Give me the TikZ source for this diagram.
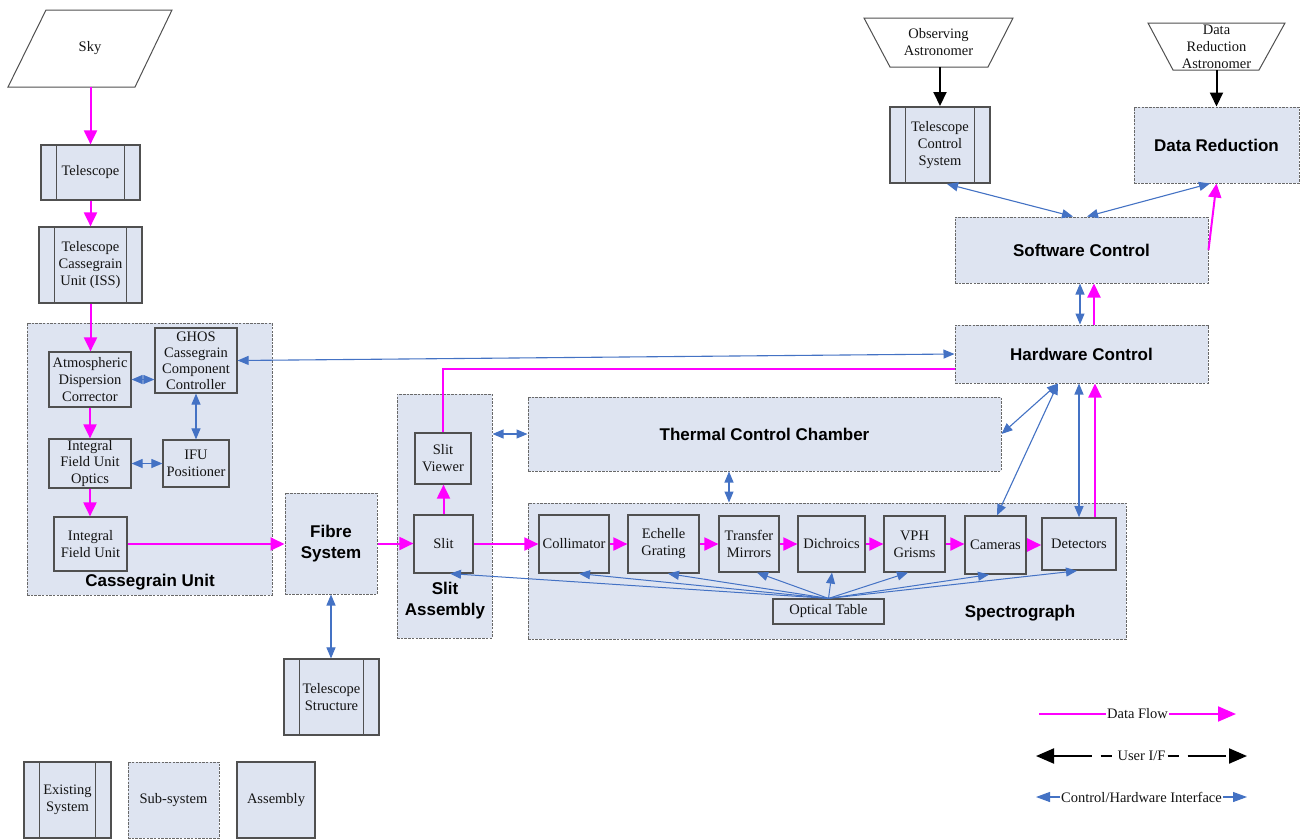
\documentclass[tikz,border=0pt]{standalone}
\usepackage{fontspec}
\setmainfont{Liberation Serif}
\newfontfamily\sanslabel{Liberation Sans}
\usetikzlibrary{arrows.meta,calc}

\definecolor{boxfill}{RGB}{222,228,241}
\definecolor{edgegray}{RGB}{80,80,80}
\definecolor{dashgray}{RGB}{105,105,105}
\definecolor{dataflow}{RGB}{255,0,255}
\definecolor{ctrlblue}{RGB}{68,114,196}

\tikzset{
  txt/.style={font=\fontsize{14.5}{17}\selectfont, text=black!92, align=center},
  assy/.style={draw=edgegray, line width=1.2pt, fill=boxfill, inner sep=0pt, txt},
  subsys/.style={draw=dashgray, line width=1pt, dash pattern=on 2.5pt off 1.2pt,
    fill=boxfill, inner sep=0pt, txt},
  existing/.style={assy, path picture={
    \draw[edgegray, line width=1.2pt]
      ([xshift=15.5pt]path picture bounding box.south west) --
      ([xshift=15.5pt]path picture bounding box.north west)
      ([xshift=-15.5pt]path picture bounding box.south east) --
      ([xshift=-15.5pt]path picture bounding box.north east);}},
  biglabel/.style={font=\sanslabel\bfseries\fontsize{17}{21}\selectfont, text=black, align=center},
  outline/.style={draw=edgegray, line width=1pt, fill=white},
  data/.style={draw=dataflow, line width=2pt, -{Triangle[length=14pt,width=13pt]}},
  ctrl/.style={draw=ctrlblue, line width=1.1pt,
    {Triangle[length=11pt,width=9pt]}-{Triangle[length=11pt,width=9pt]}},
  ctrlone/.style={draw=ctrlblue, line width=1pt, -{Triangle[length=11pt,width=9pt]}},
  user/.style={draw=black, line width=2pt, -{Triangle[length=14pt,width=13pt]}},
}

\begin{document}
\begin{tikzpicture}[x=1pt,y=-1pt]
\fill[white] (0,0) rectangle (1302,839);
\useasboundingbox (0,0) rectangle (1302,839);

% ---------- sub-system containers ----------
\node[subsys, minimum width=245pt, minimum height=272pt] (casu) at (149.5,459) {};
\node[subsys, minimum width=95pt, minimum height=244pt] (slita) at (444.5,516) {};
\node[subsys, biglabel, minimum width=473pt, minimum height=74pt] (tcc) at (764.5,434) {Thermal Control Chamber};
\node[subsys, minimum width=598pt, minimum height=136pt] (spec) at (827,571) {};
\node[biglabel] (casulbl) at (150,582) {Cassegrain Unit};
\node[biglabel] (slitalbl) at (445,601) {Slit\\Assembly};
\node[biglabel] (speclbl) at (1020,613) {Spectrograph};

% ---------- sky and telescope chain ----------
\draw[outline] (46,10) -- (172,10) -- (135,87) -- (8,87) -- cycle;
\node[txt, inner sep=0pt, minimum width=127pt, minimum height=77pt] (sky) at (90,48.5) {Sky};
\node[existing, minimum width=99pt, minimum height=55pt] (tel) at (90.5,172.5) {Telescope};
\node[existing, minimum width=103pt, minimum height=76pt] (tcu) at (90.5,265) {Telescope\\Cassegrain\\Unit (ISS)};

% ---------- Cassegrain unit ----------
\node[assy, minimum width=82pt, minimum height=55pt] (adc) at (90,379.5) {Atmospheric\\Dispersion\\Corrector};
\node[assy, minimum width=82pt, minimum height=65pt, font=\fontsize{14.5}{16}\selectfont] (ghos) at (196,360.5) {GHOS\\Cassegrain\\Component\\Controller};
\node[assy, minimum width=82pt, minimum height=49pt, font=\fontsize{14.5}{16.5}\selectfont] (ifuo) at (90,463.5) {Integral\\Field Unit\\Optics};
\node[assy, minimum width=66pt, minimum height=47pt] (ifup) at (196,463.5) {IFU\\Positioner};
\node[assy, minimum width=73pt, minimum height=54pt] (ifu) at (90.5,544) {Integral\\Field Unit};

% ---------- fibre and slit ----------
\node[subsys, biglabel, minimum width=92pt, minimum height=101pt] (fibre) at (331,543.5) {Fibre\\System};
\node[existing, minimum width=95pt, minimum height=76pt] (tstruct) at (331.5,697) {Telescope\\Structure};
\node[assy, minimum width=56pt, minimum height=51pt] (slitv) at (443,458.5) {Slit\\Viewer};
\node[assy, minimum width=59pt, minimum height=58pt] (slit) at (443.5,544) {Slit};

% ---------- spectrograph ----------
\node[assy, minimum width=70pt, minimum height=58pt] (coll) at (574,544) {Collimator};
\node[assy, minimum width=71pt, minimum height=58pt] (ech) at (663.5,544) {Echelle\\Grating};
\node[assy, minimum width=60pt, minimum height=56pt] (tm) at (749,544) {Transfer\\Mirrors};
\node[assy, minimum width=67pt, minimum height=56pt] (dich) at (831.5,544) {Dichroics};
\node[assy, minimum width=61pt, minimum height=56pt] (vph) at (914.5,544) {VPH\\Grisms};
\node[assy, minimum width=61pt, minimum height=58pt] (cam) at (995.5,545) {Cameras};
\node[assy, line width=1.6pt, minimum width=74pt, minimum height=52pt] (det) at (1079,544) {Detectors};
\node[assy, minimum width=111pt, minimum height=25pt] (optab) at (828.5,611.5) {Optical Table};

% ---------- control side ----------
\node[subsys, biglabel, minimum width=253pt, minimum height=58pt] (hc) at (1081.5,354) {Hardware Control};
\node[subsys, biglabel, minimum width=253pt, minimum height=66pt] (sc) at (1081.5,250) {Software Control};
\node[existing, line width=2pt, minimum width=100pt, minimum height=76pt] (tcs) at (940,145) {Telescope\\Control\\System};
\node[subsys, biglabel, minimum width=165pt, minimum height=76pt] (dr) at (1216.5,145) {Data Reduction};
\draw[outline] (864,18) -- (1013,18) -- (988,67) -- (890,67) -- cycle;
\node[txt, inner sep=0pt, minimum width=149pt, minimum height=49pt] (obs) at (938.5,42.5) {Observing\\Astronomer};
\draw[outline] (1148,23) -- (1285,23) -- (1259,70) -- (1173,70) -- cycle;
\node[txt, inner sep=0pt, minimum width=137pt, minimum height=47pt] (dra) at (1216.5,46.5) {Data\\Reduction\\Astronomer};

% ---------- key boxes ----------
\node[existing, minimum width=87pt, minimum height=76pt] (keyex) at (67.5,800) {Existing\\System};
\node[subsys, minimum width=91pt, minimum height=76pt] (keysub) at (173.5,800) {Sub-system};
\node[assy, minimum width=78pt, minimum height=76pt] (keyasm) at (276,800) {Assembly};

% ---------- data flow ----------
\draw[data] (tel.north |- sky.south) -- (tel.north);
\draw[data] (tel.south) -- (tcu.north);
\draw[data] (tcu.south) -- (tcu.south |- adc.north);
\draw[data] (adc.south) -- (ifuo.north);
\draw[data] (ifuo.south) -- (ifuo.south |- ifu.north);
\draw[data] (ifu.east) -- (ifu.east -| fibre.west);
\draw[data] (fibre.east) -- (fibre.east -| slit.west);
\draw[data] (slit.north) -- (slit.north |- slitv.south);
\draw[data, -] (slitv.north) |- ([yshift=-15pt]hc.west);
\draw[data] (slit.east) -- (slit.east -| coll.west);
\draw[data] (coll.east) -- (ech.west);
\draw[data] (ech.east) -- (tm.west);
\draw[data] (tm.east) -- (dich.west);
\draw[data] (dich.east) -- (vph.west);
\draw[data] (vph.east) -- (vph.east -| cam.west);
\draw[data] (cam.east) -- (cam.east -| det.west);
\draw[data] ([xshift=16pt]det.north) -- ([xshift=16pt]det.north |- hc.south);
\draw[data] ([xshift=12.5pt]hc.north) -- ([xshift=12.5pt]hc.north |- sc.south);
\draw[data] (sc.east) -- (dr.south);

% ---------- control / hardware interfaces ----------
\draw[ctrl] (adc.east) -- (adc.east -| ghos.west);
\draw[ctrl] (ifuo.east) -- (ifuo.east -| ifup.west);
\draw[ctrl] (ghos.south) -- (ghos.south |- ifup.north);
\draw[ctrl] (ghos.east) -- (hc.west);
\draw[ctrl] (tcc.west -| slita.east) -- (tcc.west);
\draw[ctrl] ([xshift=-35.5pt]tcc.south) -- ([xshift=-35.5pt]tcc.south |- spec.north);
\draw[ctrl] (fibre.south) -- (fibre.south |- tstruct.north);
\draw[ctrl] ([xshift=7pt]tcs.south) -- ([xshift=-8.5pt]sc.north);
\draw[ctrl] ([xshift=-6.5pt]dr.south) -- ([xshift=5.5pt]sc.north);
\draw[ctrl] ([xshift=-1.5pt]sc.south) -- ([xshift=-1.5pt]sc.south |- hc.north);
\draw[ctrl] ([xshift=-23.5pt]hc.south) -- (tcc.east);
\draw[ctrl] ([xshift=-23.5pt]hc.south) -- ([xshift=1.5pt]cam.north);
\draw[ctrl] (det.north) -- (det.north |- hc.south);
\foreach \n/\dx in {slit/6.5, coll/5, ech/4.5, tm/8, dich/0.5, vph/-6.5, cam/-6.5, det/-2}
  \draw[ctrlone] (optab.north) -- ([xshift=\dx pt]\n.south);

% ---------- user interfaces ----------
\draw[user] (tcs.north |- obs.south) -- (tcs.north);
\draw[user] (dra.south) -- (dr.north);

% ---------- line key ----------
\coordinate (kda) at (1039,714);
\coordinate (kdb) at (1236,714);
\coordinate (kua) at (1036,756);
\coordinate (kub) at (1247,756);
\coordinate (kca) at (1036,797);
\coordinate (kcb) at (1247,797);
\draw[data, -{Triangle[length=18pt,width=15pt]}] (kda) -- node[txt, fill=white, inner sep=1pt] (kdl) {Data Flow} (kdb);
\draw[user, {Triangle[length=18pt,width=15pt]}-{Triangle[length=18pt,width=15pt]},
  dash pattern=on 38pt off 9pt on 11pt off 9pt]
  (kua) -- node[txt, fill=white, inner sep=1pt] (kul) {User I/F} (kub);
\draw[ctrl, {Triangle[length=14pt,width=10pt]}-{Triangle[length=14pt,width=10pt]}]
  (kca) -- node[txt, fill=white, inner sep=1pt] (kcl) {Control/Hardware Interface} (kcb);
\end{tikzpicture}
\end{document}
